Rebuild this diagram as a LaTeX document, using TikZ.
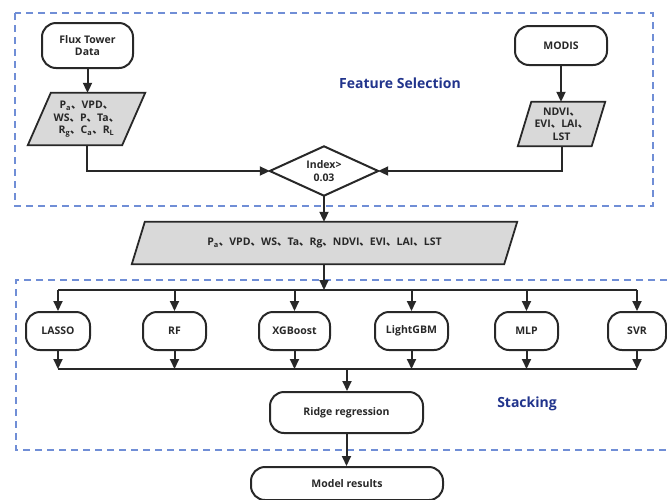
\documentclass[tikz,border=0pt]{standalone}
\usepackage{fontspec}
\setmainfont{Open Sans}
\newfontfamily\cjk{Noto Sans CJK SC}
\usetikzlibrary{arrows.meta,calc,backgrounds}
\newcommand{\dun}{{\cjk 、}}
\definecolor{ln}{RGB}{40,40,40}
\definecolor{dashblue}{RGB}{112,142,214}
\definecolor{ttl}{RGB}{33,52,140}
\definecolor{grayfill}{RGB}{217,217,217}
\begin{document}
\begin{tikzpicture}[x=1pt,y=-1pt,
  lbl/.style={font=\bfseries\fontsize{10.5}{12.5}\selectfont, text=ln},
  term/.style={lbl, draw=ln, line width=2pt, rounded corners=14pt, align=center, inner sep=0pt, fill=white},
  ptxt/.style={lbl, align=center, inner sep=0pt},
  para/.style={draw=ln, line width=1.8pt, fill=grayfill, line join=miter},
  wire/.style={draw=ln, line width=2pt},
  arr/.style={wire, -{Triangle[length=10pt,width=9pt]}},
  frame/.style={draw=dashblue, line width=1.4pt, dash pattern=on 7pt off 5pt},
  title/.style={font=\bfseries\fontsize{14}{16}\selectfont, text=ttl}
]
\useasboundingbox (0,0) rectangle (667,499);

% frames
\draw[frame] (15,13) rectangle (653,206);
\draw[frame] (667,280) -- (16,280) -- (16,450) -- (667,450);
\node[title] (fs) at (400,83) {Feature Selection};
\node[title] (st) at (527,404) {Stacking};

% feature selection
\node[term, minimum width=91pt, minimum height=45pt] (flux) at (87.5,45.5) {Flux Tower\\Data};
\node[term, minimum width=92pt, minimum height=39pt] (modis) at (561,45.5) {MODIS};

\node[ptxt, minimum width=117pt, minimum height=52pt] (p1) at (86.5,119)
  {P\textsubscript{a}\dun VPD\dun\\WS\dun P\dun Ta\dun\\R\textsubscript{g}\dun C\textsubscript{a}\dun R\textsubscript{L}};
\node[ptxt, minimum width=87pt, minimum height=44pt] (p2) at (561.5,124)
  {NDVI\dun\\EVI\dun LAI\dun\\LST};
\node[ptxt, minimum width=108pt, minimum height=49pt] (d) at (324,171) {Index>\\0.03};
\node[ptxt, minimum width=385pt, minimum height=42pt] (p3) at (324.5,243)
  {P\textsubscript{a}\dun VPD\dun WS\dun Ta\dun Rg\dun NDVI\dun EVI\dun LAI\dun LST};

\begin{scope}[on background layer]
  \filldraw[para] (p1.north east) -- ($(p1.north west)+(23,0)$) -- (p1.south west) -- ($(p1.south east)+(-23,0)$) -- cycle;
  \filldraw[para] (p2.north east) -- ($(p2.north west)+(13.5,0)$) -- (p2.south west) -- ($(p2.south east)+(-13.5,0)$) -- cycle;
  \filldraw[para] (p3.north east) -- ($(p3.north west)+(13,0)$) -- (p3.south west) -- ($(p3.south east)+(-13,0)$) -- cycle;
  \filldraw[para, line width=2pt, fill=white] (d.north) -- (d.east) -- (d.south) -- (d.west) -- cycle;
\end{scope}

\draw[arr] (flux.south) -- (flux.south |- p1.north);
\draw[arr] (modis.south) -- (modis.south |- p2.north);
\draw[arr] (p1.south) |- (d.west);
\draw[arr] (p2.south) |- (d.east);
\draw[arr] (d.south) -- (d.south |- p3.north);

% stacking
\coordinate (bt) at (324,290);
\coordinate (bb) at (347,369);
\node[term, minimum width=64pt, minimum height=38pt] (lasso) at (58,331) {LASSO};
\node[term, minimum width=63pt, minimum height=38pt] (rf) at (174.5,331) {RF};
\node[term, minimum width=71pt, minimum height=38pt] (xgb) at (294.5,331) {XGBoost};
\node[term, minimum width=73pt, minimum height=38pt] (lgbm) at (411.5,331) {LightGBM};
\node[term, minimum width=63pt, minimum height=38pt] (mlp) at (526.5,331) {MLP};
\node[term, minimum width=58pt, minimum height=38pt] (svr) at (637,331) {SVR};
\node[term, minimum width=153pt, minimum height=41pt] (ridge) at (346.5,412.5) {Ridge regression};
\node[term, minimum width=192pt, minimum height=33pt] (res) at (347,483.5) {Model results};

\draw[arr] (p3.south -| bt) -- (bt);
\draw[wire] (lasso.north |- bt) -- (svr.north |- bt);
\foreach \m in {lasso,rf,xgb,lgbm,mlp,svr} {
  \draw[arr] (\m.north |- bt) -- (\m.north);
  \draw[arr] (\m.south) -- (\m.south |- bb);
}
\draw[wire] (lasso.south |- bb) -- (svr.south |- bb);
\draw[arr] (bb) -- (bb |- ridge.north);
\draw[arr] (ridge.south) -- (ridge.south |- res.north);
\end{tikzpicture}
\end{document}
